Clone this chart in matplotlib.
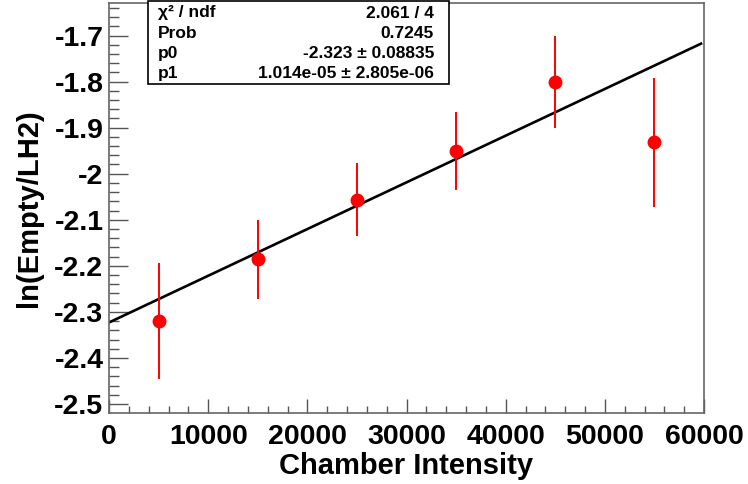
import numpy as np
import matplotlib.pyplot as plt
from matplotlib.ticker import MultipleLocator

plt.rcParams['font.family'] = ['Liberation Sans', 'DejaVu Sans']

# Data
intensity = [5000, 15000, 25000, 35000, 45000, 55000]
log_ratio = [-2.319, -2.186, -2.056, -1.951, -1.801, -1.932]
log_err = [0.126, 0.085, 0.080, 0.085, 0.100, 0.140]

x_ticks = [0, 10000, 20000, 30000, 40000, 50000, 60000]
y_ticks = [-2.5, -2.4, -2.3, -2.2, -2.1, -2.0, -1.9, -1.8, -1.7]
y_tick_labels = ['-2.5', '-2.4', '-2.3', '-2.2', '-2.1', '-2', '-1.9', '-1.8', '-1.7']

# Fit parameters (from the stats box)
p0 = -2.323
p1 = 1.014e-05
stat_names = ['\u03c7\u00b2 / ndf', 'Prob', 'p0', 'p1']
stat_values = ['2.061 / 4', '0.7245', '-2.323 \u00b1 0.08835', '1.014e-05 \u00b1 2.805e-06']

fig = plt.figure(figsize=(7.48, 4.84), dpi=100)
ax = fig.add_axes([109 / 748, 71 / 484, 595 / 748, 410 / 484])

xfit = np.array([0, 59700])
ax.plot(xfit, p0 + p1 * xfit, color='black', lw=1.9, zorder=2)
ax.errorbar(intensity, log_ratio, yerr=log_err, fmt='o', color='red',
            ms=9, elinewidth=1.4, capsize=0, zorder=3)

ax.set_xlim(0, 60000)
ax.set_ylim(-2.5195, -1.6294)
ax.set_xticks(x_ticks)
ax.set_xticklabels([str(t) for t in x_ticks])
ax.set_yticks(y_ticks)
ax.set_yticklabels(y_tick_labels)
ax.xaxis.set_minor_locator(MultipleLocator(2000))
ax.yaxis.set_minor_locator(MultipleLocator(0.02))

ax.tick_params(axis='both', which='both', direction='in', top=False, right=False,
               color='#555555', labelsize=20.5)
ax.tick_params(axis='y', which='major', length=14, width=1, pad=4)
ax.tick_params(axis='y', which='minor', length=7, width=1)
ax.tick_params(axis='x', which='major', length=10, width=1, pad=8)
ax.tick_params(axis='x', which='minor', length=5, width=1)
for lab in ax.get_xticklabels() + ax.get_yticklabels():
    lab.set_fontweight('bold')
for sp in ax.spines.values():
    sp.set_color('#666666')
    sp.set_linewidth(1.2)

ax.set_xlabel('Chamber Intensity', fontsize=21, fontweight='bold', labelpad=1)
ax.set_ylabel('ln(Empty/LH2)', fontsize=21, fontweight='bold', labelpad=8)

# Stats box
bx0, bx1 = 148 / 748, 449 / 748
by0, by1 = 1 - 84 / 484, 1 - 1 / 484
fig.patches.append(plt.Rectangle((bx0, by0), bx1 - bx0, by1 - by0, transform=fig.transFigure,
                                 facecolor='white', edgecolor='black', lw=1.2, zorder=5))
for i, (name, val) in enumerate(zip(stat_names, stat_values)):
    yy = 1 - (13 + 20.3 * i) / 484
    fig.text(158 / 748, yy, name, fontsize=12.5, fontweight='bold', va='center', ha='left', zorder=6)
    fig.text(434 / 748, yy, val, fontsize=12.5, fontweight='bold', va='center', ha='right', zorder=6)

fig.savefig('out.png', dpi=100)
